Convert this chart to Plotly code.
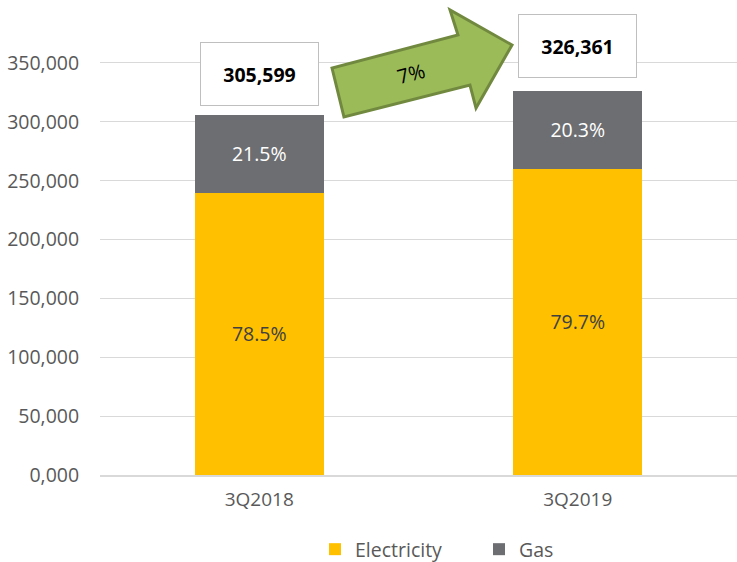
import plotly.graph_objects as go

categories = ["3Q2018", "3Q2019"]
totals = [305599, 326361]
electricity_share = [78.5, 79.7]
gas_share = [21.5, 20.3]
electricity = [t * s / 100 for t, s in zip(totals, electricity_share)]
gas = [t * s / 100 for t, s in zip(totals, gas_share)]
growth_label = "7%"
tick_vals = [0, 50000, 100000, 150000, 200000, 250000, 300000, 350000]
tick_text = ["0,000", "50,000", "100,000", "150,000", "200,000", "250,000", "300,000", "350,000"]

FONT = "Open Sans"
W, H = 737, 562
L, R, T, B = 100, 0, 10, 87

fig = go.Figure()
fig.add_trace(go.Bar(
    name="Electricity", x=categories, y=electricity,
    marker=dict(color="#FFC000", line=dict(width=0)),
    text=[f"{v}%" for v in electricity_share], textposition="inside",
    insidetextanchor="middle", textfont=dict(color="#404040", size=19.5, family=FONT),
    width=0.405,
))
fig.add_trace(go.Bar(
    name="Gas", x=categories, y=gas,
    marker=dict(color="#6D6E71", line=dict(width=0)),
    text=[f"{v}%" for v in gas_share], textposition="inside",
    insidetextanchor="middle", textfont=dict(color="white", size=19.5, family=FONT),
    width=0.405,
))

# Total boxes
shifts = [41, 45]
for c, t, s in zip(categories, totals, shifts):
    fig.add_annotation(
        x=c, y=t, yshift=s, text=f"<b>{t:,}</b>", showarrow=False,
        font=dict(size=19.5, color="black", family=FONT),
        bgcolor="white", bordercolor="#BFBFBF", borderwidth=1,
        width=117, height=62, borderpad=0, xref="x", yref="y",
        xanchor="center", yanchor="middle",
    )

# Growth arrow (pixel coords converted to paper)
pw, ph = W - L - R, H - T - B
def px(x):
    return (x - L) / pw
def py(y):
    return (H - B - y) / ph
pts = [(332, 68), (344, 117), (470, 85), (476, 108), (512, 45), (450, 10), (458, 35)]
path = "M " + " L ".join(f"{px(x):.4f},{py(y):.4f}" for x, y in pts) + " Z"
fig.add_shape(type="path", path=path, xref="paper", yref="paper",
              fillcolor="#9BBB59", line=dict(color="#71893F", width=3), layer="above")
fig.add_annotation(x=px(411), y=py(73), xref="paper", yref="paper", text=growth_label,
                   showarrow=False, textangle=-15, xanchor="center", yanchor="middle",
                   font=dict(size=20, color="black", family=FONT))

fig.update_layout(
    width=W, height=H, margin=dict(l=L, r=R, t=T, b=B, autoexpand=False),
    barmode="stack", plot_bgcolor="white", paper_bgcolor="white",
    font=dict(family=FONT, color="#595959", size=16),
    legend=dict(orientation="h", x=px(315), xanchor="left", y=py(530), yanchor="top",
                font=dict(size=19.5, color="#595959"), traceorder="normal",
                itemwidth=30, entrywidth=119),
    showlegend=True,
)
fig.update_yaxes(range=[0, 395000], tickvals=tick_vals, ticktext=tick_text,
                 showgrid=True, gridcolor="#D9D9D9", gridwidth=1,
                 zeroline=False, showline=False,
                 ticks="outside", ticklen=16, tickcolor="white",
                 tickfont=dict(size=19.5, color="#595959"))
fig.update_xaxes(showline=True, linecolor="#D9D9D9", linewidth=2,
                 tickfont=dict(size=19, color="#595959"), ticks="outside",
                 ticklen=6, tickcolor="white")

fig.write_html("out.html", post_script="document.body.style.margin='0';",
               config={"displayModeBar": False})
